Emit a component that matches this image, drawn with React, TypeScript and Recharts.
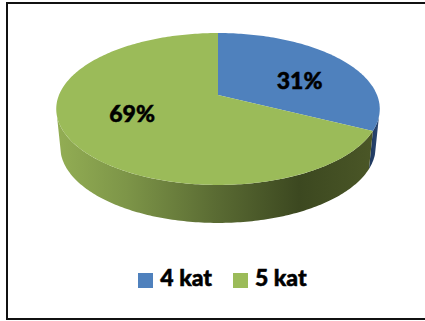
import React from "react";
import { PieChart, Pie, Legend } from "recharts";

const categories = ["4 kat", "5 kat"];
const shares = [31, 69];
const colors = ["#4f81bd", "#9bbb59"];

const chartData = categories.map((name, i) => ({ name, value: shares[i], fill: colors[i] }));

// Projection of the flat pie onto the tilted 3D look of the reference.
const PERSPECTIVE = -0.184;
const Y_SCALE = 55.9;
const DEPTH = 38;
const BASE_NARROW = 0.975;
const ANGLE_WARP = 5.5;
const VISIBLE_FROM = 100.6;
const VISIBLE_TO = 259.4;
const rad = Math.PI / 180;

function project(cx: number, cy: number, R: number, r: number, clock: number, base = false) {
  const warped = clock + ANGLE_WARP * Math.sin(clock * rad);
  const u = r * Math.sin(warped * rad);
  const v = -r * Math.cos(warped * rad);
  const d = 1 + PERSPECTIVE * v;
  const dx = (R * u) / d;
  const y = (cy + Y_SCALE * v) / d;
  return base ? { x: cx + dx * BASE_NARROW, y: y + DEPTH } : { x: cx + dx, y };
}

function arcPoints(cx: number, cy: number, R: number, a: number, b: number, base = false) {
  const pts: string[] = [];
  const steps = Math.max(2, Math.ceil(Math.abs(b - a)));
  for (let i = 0; i <= steps; i++) {
    const p = project(cx, cy, R, 1, a + ((b - a) * i) / steps, base);
    pts.push(`${p.x.toFixed(2)},${p.y.toFixed(2)}`);
  }
  return pts;
}

function Slice3D(props: any) {
  const { cx, cy, outerRadius: R, startAngle, endAngle, fill, index } = props;
  const a = 90 - startAngle;
  const b = 90 - endAngle;
  const top = [`${cx},${cy}`, ...arcPoints(cx, cy, R, a, b)];
  const wa = Math.max(a, VISIBLE_FROM);
  const wb = Math.min(b, VISIBLE_TO);
  const wall =
    wb > wa
      ? [...arcPoints(cx, cy, R, wa, wb), ...arcPoints(cx, cy, R, wa, wb, true).reverse()]
      : null;
  const gid = `wall-${index}`;
  return (
    <g>
      <defs>
        <linearGradient id="wall-0" gradientUnits="userSpaceOnUse" x1="368" x2="380" y1="0" y2="0">
          <stop offset="0" stopColor="#1d3558" />
          <stop offset="1" stopColor="#2c4a78" />
        </linearGradient>
        <linearGradient id="wall-1" gradientUnits="userSpaceOnUse" x1="56" x2="376" y1="0" y2="0">
          <stop offset="0" stopColor="#93ae54" />
          <stop offset="0.22" stopColor="#7d9548" />
          <stop offset="0.5" stopColor="#5a6b33" />
          <stop offset="0.76" stopColor="#3c4820" />
          <stop offset="1" stopColor="#4b5727" />
        </linearGradient>
      </defs>
      {wall && <polygon points={wall.join(" ")} fill={`url(#${gid})`} />}
      <polygon points={top.join(" ")} fill={fill} />
    </g>
  );
}

const LABEL_NUDGE = [
  { dx: 3, dy: 6 },
  { dx: -6, dy: -12 },
];

function SliceLabel(props: any) {
  const { cx, cy, outerRadius: R, midAngle, percent, index } = props;
  const p = project(cx, cy, R, 0.6, 90 - midAngle);
  return (
    <text
      x={p.x + LABEL_NUDGE[index].dx}
      y={p.y + LABEL_NUDGE[index].dy}
      textAnchor="middle"
      dominantBaseline="central"
      fill="#000"
      stroke="#000"
      strokeWidth={0.5}
      fontFamily="Lato"
      fontWeight={900}
      fontSize={23}
    >
      {`${Math.round(percent * 100)}%`}
    </text>
  );
}

export default function App() {
  return (
    <div style={{ position: "absolute", left: 0, top: 0, width: 425, height: 321, overflow: "hidden", background: "#fff" }}>
      <div
        style={{
          position: "absolute",
          left: 6,
          top: 2,
          width: 440,
          height: 318,
          boxSizing: "border-box",
          border: "2px solid #111",
        }}
      />
      <div style={{ position: "absolute", left: 0, top: 0 }}>
        <PieChart width={425} height={321} margin={{ left: 0, right: 0, top: 0, bottom: 0 }}>
          <Pie
            data={chartData}
            dataKey="value"
            nameKey="name"
            cx={218}
            cy={95}
            outerRadius={159}
            startAngle={90}
            endAngle={-270}
            stroke="none"
            isAnimationActive={false}
            shape={Slice3D}
            label={SliceLabel}
            labelLine={false}
          />
          <Legend
            layout="horizontal"
            iconType="square"
            iconSize={15}
            wrapperStyle={{ left: 0, top: 261, width: 466, height: 30 }}
            formatter={(value: string) => (
              <span
                style={{
                  color: "#000",
                  fontFamily: "Lato",
                  fontWeight: 900,
                  fontSize: 23,
                  marginLeft: 3,
                  marginRight: 11,
                  position: "relative",
                  top: 2,
                  WebkitTextStroke: "0.5px #000",
                }}
              >
                {value}
              </span>
            )}
          />
        </PieChart>
      </div>
    </div>
  );
}
